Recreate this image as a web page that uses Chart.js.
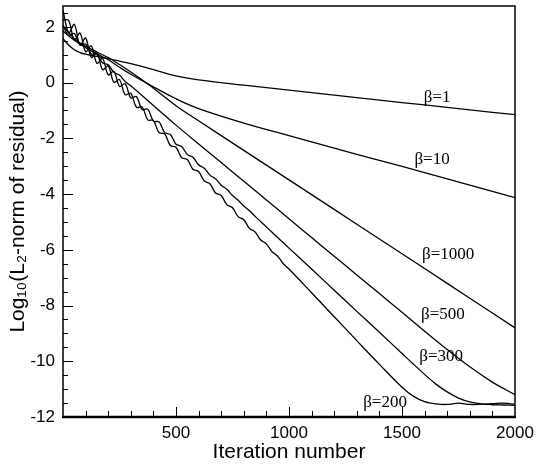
<!DOCTYPE html>
<html>
<head>
<meta charset="utf-8">
<script src="https://cdn.jsdelivr.net/npm/chart.js@4.4.1/dist/chart.umd.min.js"></script>
<style>
  html,body{margin:0;padding:0;background:#fff;}
  #wrap{width:537px;height:467px;position:relative;}
</style>
</head>
<body>
<div id="wrap"><canvas id="c" width="537" height="467"></canvas></div>
<script>
// ---------------- data ----------------
const itersSmooth = [0,25,50,75,100,150,200,250,300,400,500,600,800,1000,1200,1400,1600,1800,2000];
const beta1    = [1.58,1.35,1.18,1.08,1.02,0.94,0.86,0.77,0.68,0.47,0.24,0.10,-0.09,-0.27,-0.45,-0.63,-0.80,-0.98,-1.15];
const beta10   = [1.85,1.68,1.52,1.38,1.25,1.03,0.82,0.55,0.30,-0.15,-0.58,-0.93,-1.45,-1.90,-2.35,-2.79,-3.23,-3.68,-4.13];
const beta1000 = [2.05,1.80,1.58,1.42,1.30,1.10,0.90,0.65,0.38,-0.20,-0.83,-1.37,-2.43,-3.49,-4.55,-5.61,-6.67,-7.74,-8.80];

const iters500 = [0,25,50,75,100,125,150,175,200,225,250,275,300,400,500,600,700,800,900,1000,1100,1200,1300,1400,1500,1600,1700,1800,1900,2000];
const beta500  = [2.05,1.70,1.76,1.37,1.385,1.04,1.01,0.71,0.64,0.37,0.27,0.04,-0.115,-0.82,-1.525,-2.20,-2.87,-3.54,-4.21,-4.885,-5.56,-6.23,-6.90,-7.57,-8.245,-8.92,-9.58,-10.20,-10.75,-11.20];

const itersWavy = [0,25,50,75,100,125,150,175,200,225,250,275,300,325,350,375,400,425,450,475,500,525,550,575,600,625,650,675,700,725,750,775,800,825,850,875,900,925,950,975,1000,1100,1200,1300,1400,1500,1550,1600,1650,1700,1750,1800,1850,1900,1950,2000];
const beta200 = [2.60,1.785,2.09,1.345,1.60,0.905,1.09,0.465,0.60,0.015,0.11,-0.435,-0.38,-0.885,-0.87,-1.335,-1.36,-1.795,-1.84,-2.255,-2.32,-2.69,-2.76,-3.11,-3.19,-3.53,-3.63,-3.96,-4.05,-4.38,-4.49,-4.81,-4.92,-5.23,-5.36,-5.65,-5.79,-6.07,-6.23,-6.50,-6.69,-7.54,-8.40,-9.26,-10.11,-10.93,-11.25,-11.45,-11.53,-11.55,-11.50,-11.55,-11.54,-11.52,-11.50,-11.55];
const beta300 = [2.25,2.23,1.525,1.78,1.11,1.32,0.695,0.87,0.28,0.41,-0.135,-0.04,-0.55,-0.50,-0.965,-0.95,-1.38,-1.41,-1.795,-1.86,-2.21,-2.29,-2.58,-2.68,-2.95,-3.07,-3.32,-3.45,-3.68,-3.83,-4.05,-4.22,-4.43,-4.60,-4.80,-4.99,-5.18,-5.37,-5.56,-5.75,-5.94,-6.69,-7.45,-8.21,-8.96,-9.72,-10.10,-10.47,-10.82,-11.10,-11.32,-11.46,-11.53,-11.56,-11.57,-11.58];

const seriesLabels = ['\u03b2=1','\u03b2=10','\u03b2=1000','\u03b2=500','\u03b2=300','\u03b2=200'];
// annotation anchors in data units (iteration, log10 residual)
const labelIters = [1655,1633,1704,1681,1673,1425];
const labelVals  = [-0.54,-2.76,-6.17,-8.33,-9.83,-11.49];

const xTickValues = [500,1000,1500,2000];
const yTickValues = [2,0,-2,-4,-6,-8,-10,-12];

// ---------------- helpers ----------------
function pts(xs, ys){ return xs.map((x,i)=>({x:x, y:ys[i]})); }
function ds(label, xs, ys, tension){
  return {label:label, data:pts(xs,ys), borderColor:'#000', borderWidth:1.3,
          pointRadius:0, fill:false, tension:tension};
}

const frameAndTicks = {
  id:'frameAndTicks',
  afterDatasetsDraw(chart){
    const {ctx, chartArea:a, scales:{x, y}} = chart;
    ctx.save();
    ctx.strokeStyle = '#000';
    ctx.lineWidth = 1;
    ctx.beginPath();
    for (let v = -12; v <= 2.5 + 1e-9; v += 0.5){
      const py = Math.round(y.getPixelForValue(v)) + 0.5;
      const len = (Math.abs(v % 2) < 1e-9) ? 10 : 5;
      ctx.moveTo(a.left, py); ctx.lineTo(a.left + len, py);
    }
    for (let v = 100; v < 2000; v += 100){
      const px = Math.round(x.getPixelForValue(v)) + 0.5;
      const len = (v % 500 === 0) ? 10 : 6;
      ctx.moveTo(px, a.bottom); ctx.lineTo(px, a.bottom - len);
    }
    ctx.stroke();
    ctx.lineWidth = 1.5;
    ctx.strokeRect(a.left, a.top, a.right - a.left, a.bottom - a.top);
    ctx.lineWidth = 2.5;
    ctx.beginPath(); ctx.moveTo(a.left - 1, a.bottom); ctx.lineTo(a.right + 1, a.bottom); ctx.stroke();
    ctx.fillStyle = '#000';
    ctx.font = '17px "Liberation Serif", "Times New Roman", serif';
    ctx.textAlign = 'center';
    ctx.textBaseline = 'middle';
    for (let i = 0; i < seriesLabels.length; i++){
      ctx.fillText(seriesLabels[i], x.getPixelForValue(labelIters[i]), y.getPixelForValue(labelVals[i]));
    }
    ctx.restore();
  }
};

const tickFont = {family:'"Liberation Sans", Arial, sans-serif', size:17};
const titleFont = {family:'"Liberation Sans", Arial, sans-serif', size:21};

new Chart(document.getElementById('c'), {
  type:'line',
  data:{
    datasets:[
      ds(seriesLabels[0], itersSmooth, beta1, 0.4),
      ds(seriesLabels[1], itersSmooth, beta10, 0.4),
      ds(seriesLabels[2], itersSmooth, beta1000, 0.4),
      ds(seriesLabels[3], iters500, beta500, 0.35),
      ds(seriesLabels[4], itersWavy, beta300, 0.35),
      ds(seriesLabels[5], itersWavy, beta200, 0.35)
    ]
  },
  options:{
    responsive:false,
    animation:false,
    events:[],
    layout:{padding:{top:6, right:22, left:0, bottom:0}},
    plugins:{legend:{display:false}, tooltip:{enabled:false}},
    scales:{
      x:{
        type:'linear', min:0, max:2000,
        grid:{display:false, drawTicks:false},
        border:{display:false},
        afterBuildTicks(s){ s.ticks = xTickValues.map(v=>({value:v})); },
        ticks:{color:'#000', font:tickFont, padding:6, maxRotation:0, callback:(v)=>String(v)},
        title:{display:true, text:'Iteration number', color:'#000', font:titleFont, padding:{top:0, bottom:2}},
        afterFit(s){ s.height = 50; s.paddingLeft = 0; s.paddingRight = 0; }
      },
      y:{
        type:'linear', min:-12, max:2.75,
        grid:{display:false, drawTicks:false},
        border:{display:false},
        afterBuildTicks(s){ s.ticks = yTickValues.map(v=>({value:v})); },
        ticks:{color:'#000', font:tickFont, padding:8, callback:(v)=>String(v)},
        title:{display:true, text:'Log\u2081\u2080(L\u2082-norm of residual)', color:'#000', font:titleFont, padding:{top:6, bottom:0}},
        afterFit(s){ s.width = 63; s.paddingTop = 0; s.paddingBottom = 0; }
      }
    }
  },
  plugins:[frameAndTicks]
});
</script>
</body>
</html>
